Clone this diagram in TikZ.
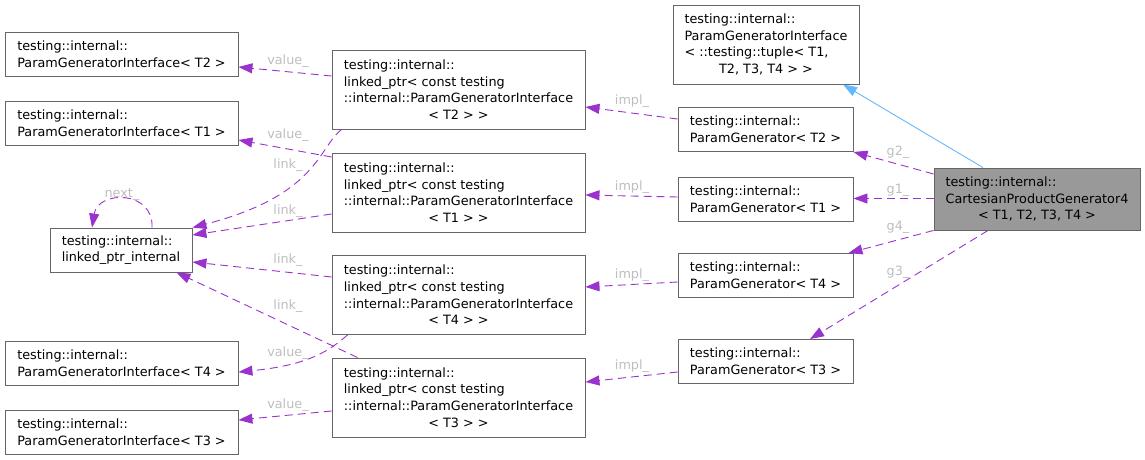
\documentclass[tikz,border=0pt]{standalone}
\usepackage{fontspec}
\setmainfont{DejaVu Sans}
\usetikzlibrary{arrows.meta}

\definecolor{edgepurple}{HTML}{9A32CD}
\definecolor{boxgray}{HTML}{666666}
\definecolor{labelgray}{HTML}{BEBEBE}
\definecolor{basefill}{HTML}{999999}
\definecolor{inheritblue}{HTML}{63B8FF}

\newcommand{\midline}[1]{\hfill#1\hfill\mbox{}}

\tikzset{
  classbox/.style={draw=boxgray, line width=0.9pt, align=left, inner sep=2pt,
    font=\fontsize{12.8}{16.7}\selectfont},
  ifacebox/.style={classbox, minimum width=233, minimum height=44},
  ptrbox/.style={classbox, minimum width=253, minimum height=79},
  genbox/.style={classbox, minimum width=175, minimum height=44},
  usedby/.style={color=edgepurple, line width=0.9pt, dash pattern=on 8pt off 5pt,
    -{Triangle[length=14pt,width=10pt]}},
  inherits/.style={color=inheritblue, line width=0.9pt, -{Triangle[length=14pt,width=10pt]}},
  edgelabel/.style={text=labelgray, font=\fontsize{12.8}{16.7}\selectfont, inner sep=0pt},
}

\begin{document}
\begin{tikzpicture}[x=1pt, y=-1pt]
        \useasboundingbox (0,0) rectangle (1145,460);

        % left column
        \node[ifacebox] (pgiT2) at (121.5,54) {testing::internal::\\ParamGeneratorInterface< T2 >};
        \node[ifacebox] (pgiT1) at (121.5,123) {testing::internal::\\ParamGeneratorInterface< T1 >};
        \node[classbox, minimum width=142, minimum height=44] (lpi) at (121,250) {testing::internal::\\linked\_ptr\_internal};
        \node[ifacebox] (pgiT4) at (121.5,363) {testing::internal::\\ParamGeneratorInterface< T4 >};
        \node[ifacebox] (pgiT3) at (121.5,432.5) {testing::internal::\\ParamGeneratorInterface< T3 >};

        % linked_ptr column
        \node[ptrbox] (lpT2) at (458.5,89.5) {testing::internal::\\linked\_ptr< const testing\\::internal::ParamGeneratorInterface\\\midline{< T2 > >}};
        \node[ptrbox] (lpT1) at (458.5,192.5) {testing::internal::\\linked\_ptr< const testing\\::internal::ParamGeneratorInterface\\\midline{< T1 > >}};
        \node[ptrbox] (lpT4) at (458.5,295) {testing::internal::\\linked\_ptr< const testing\\::internal::ParamGeneratorInterface\\\midline{< T4 > >}};
        \node[ptrbox] (lpT3) at (458.5,397.5) {testing::internal::\\linked\_ptr< const testing\\::internal::ParamGeneratorInterface\\\midline{< T3 > >}};

        % generator column
        \node[classbox, minimum width=186, minimum height=79] (tuple) at (766,44.5) {testing::internal::\\ParamGeneratorInterface\\< ::testing::tuple< T1,\\\midline{T2, T3, T4 > >}};
        \node[genbox] (pgT2) at (765.5,129.5) {testing::internal::\\ParamGenerator< T2 >};
        \node[genbox] (pgT1) at (765.5,199) {testing::internal::\\ParamGenerator< T1 >};
        \node[genbox] (pgT4) at (765.5,275.5) {testing::internal::\\ParamGenerator< T4 >};
        \node[genbox] (pgT3) at (765.5,361.5) {testing::internal::\\ParamGenerator< T3 >};

        \node[classbox, fill=basefill, minimum width=206, minimum height=62] (cpg) at (1037,199) {testing::internal::\\CartesianProductGenerator4\\\midline{< T1, T2, T3, T4 >}};

        % inheritance
        \draw[inherits] ([xshift=-54]cpg.north) -- ([xshift=77]tuple.south);

        % members of the generator
        \draw[usedby] ([yshift=25]cpg.west) -- (pgT2.south east) node[edgelabel] at (898,152) {g2\_};
        \draw[usedby] ([yshift=0.5]cpg.west) -- ([yshift=0.5]pgT1.east) node[edgelabel] at (898,190) {g1\_};
        \draw[usedby] (cpg.south west) -- ([xshift=-5]pgT4.north east) node[edgelabel] at (898,227) {g4\_};
        \draw[usedby] ([xshift=-49]cpg.south) -- ([xshift=44.5]pgT3.north) node[edgelabel] at (898,272) {g3\_};

        % impl_
        \draw[usedby] ([yshift=10.5]pgT2.west) -- ([yshift=-17.5]lpT2.east) node[edgelabel] at (632,101) {impl\_};
        \draw[usedby] ([yshift=2]pgT1.west) -- ([yshift=-2.5]lpT1.east) node[edgelabel] at (632,187) {impl\_};
        \draw[usedby] ([yshift=-6.5]pgT4.west) -- ([yshift=8]lpT4.east) node[edgelabel] at (632,275) {impl\_};
        \draw[usedby] ([yshift=-10.5]pgT3.west) -- ([yshift=15.5]lpT3.east) node[edgelabel] at (632,366) {impl\_};

        % value_
        \draw[usedby] ([yshift=13.5]lpT2.west) -- ([yshift=-13]pgiT2.east) node[edgelabel] at (288,61) {value\_};
        \draw[usedby] ([yshift=35.5]lpT1.west) -- ([yshift=-17]pgiT1.east) node[edgelabel] at (288,135) {value\_};
        \draw[usedby] ([xshift=16]lpT4.south west) .. controls (330,350) and (310,365) .. ([yshift=-9]pgiT4.east) node[edgelabel] at (288,353) {value\_};
        \draw[usedby] ([yshift=-13.5]lpT3.west) -- ([yshift=12.5]pgiT3.east) node[edgelabel] at (288,405) {value\_};

        % link_
        \draw[usedby] ([xshift=10]lpT2.south west) .. controls (318,148) and (318,195) .. (lpi.north east) node[edgelabel] at (288,165) {link\_};
        \draw[usedby] ([yshift=-21.5]lpT1.west) -- ([yshift=15]lpi.east) node[edgelabel] at (288,211) {link\_};
        \draw[usedby] ([yshift=18]lpT4.west) -- ([yshift=-12]lpi.east) node[edgelabel] at (288,260) {link\_};
        \draw[usedby] ([xshift=26]lpT3.north west) -- ([xshift=-16]lpi.south east) node[edgelabel] at (288,306) {link\_};

        % next_
        \draw[usedby] ([xshift=31]lpi.north) .. controls (154,190) and (98,190) .. ([xshift=-29]lpi.north) node[edgelabel] at (122,195) {next\_};
\end{tikzpicture}
\end{document}
